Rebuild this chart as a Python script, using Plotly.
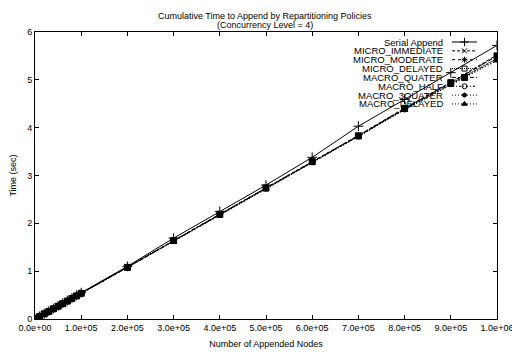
import plotly.graph_objects as go

x_nodes = [0, 10000, 20000, 30000, 40000, 50000, 60000, 70000, 80000, 90000,
           100000, 200000, 300000, 400000, 500000, 600000, 700000, 800000, 900000, 1000000]

serial_append   = [0, 0.055, 0.11, 0.165, 0.22, 0.275, 0.33, 0.385, 0.44, 0.495,
                   0.55, 1.10, 1.69, 2.25, 2.80, 3.38, 4.03, 4.59, 5.15, 5.72]
micro_immediate = [0, 0.053, 0.107, 0.16, 0.214, 0.268, 0.322, 0.376, 0.43, 0.484,
                   0.538, 1.09, 1.64, 2.19, 2.74, 3.29, 3.84, 4.41, 4.95, 5.52]
micro_moderate  = [0, 0.053, 0.107, 0.16, 0.213, 0.267, 0.321, 0.375, 0.429, 0.483,
                   0.537, 1.08, 1.64, 2.19, 2.74, 3.29, 3.83, 4.40, 4.94, 5.50]
micro_delayed   = [0, 0.053, 0.106, 0.159, 0.212, 0.266, 0.32, 0.374, 0.428, 0.482,
                   0.536, 1.08, 1.63, 2.18, 2.73, 3.28, 3.82, 4.39, 4.92, 5.45]
macro_quater    = [0, 0.053, 0.107, 0.16, 0.213, 0.267, 0.321, 0.375, 0.429, 0.483,
                   0.537, 1.08, 1.64, 2.19, 2.74, 3.29, 3.83, 4.40, 4.94, 5.50]
macro_half      = [0, 0.053, 0.106, 0.159, 0.212, 0.265, 0.319, 0.373, 0.427, 0.481,
                   0.535, 1.08, 1.63, 2.18, 2.73, 3.28, 3.82, 4.38, 4.91, 5.44]
macro_3quater   = [0, 0.053, 0.106, 0.159, 0.212, 0.265, 0.319, 0.373, 0.427, 0.481,
                   0.535, 1.08, 1.63, 2.18, 2.72, 3.27, 3.81, 4.38, 4.90, 5.42]
macro_delayed   = [0, 0.053, 0.106, 0.159, 0.211, 0.264, 0.318, 0.372, 0.426, 0.48,
                   0.534, 1.08, 1.62, 2.17, 2.72, 3.27, 3.81, 4.37, 4.89, 5.40]

series_names = ["Serial Append", "MICRO_IMMEDIATE", "MICRO_MODERATE", "MICRO_DELAYED",
                "MACRO_QUATER", "MACRO_HALF", "MACRO_3QUATER", "MACRO_DELAYED"]
series_values = [serial_append, micro_immediate, micro_moderate, micro_delayed,
                 macro_quater, macro_half, macro_3quater, macro_delayed]
symbols = ["cross-thin-open", "x-thin-open", "asterisk-open", "square-open",
           "square", "circle-open", "circle", "triangle-up"]
dashes = ["solid", "3px,2px", "dot", "1px,1px", "4px,2px,1px,2px", "2px,2px,1px,2px", "1px,2px", "1px,2px"]
sizes = [7, 5, 5, 5, 6, 5, 4, 5]

x_tickvals = [0, 100000, 200000, 300000, 400000, 500000, 600000, 700000, 800000, 900000, 1000000]
x_ticktext = ["0.0e+00", "1.0e+05", "2.0e+05", "3.0e+05", "4.0e+05", "5.0e+05",
              "6.0e+05", "7.0e+05", "8.0e+05", "9.0e+05", "1.0e+06"]
y_tickvals = [0, 1, 2, 3, 4, 5, 6]

title_lines = ["Cumulative Time to Append by Repartitioning Policies", "(Concurrency Level = 4)"]

# layout (pixel frame of the plot area)
W, H = 512, 354
L, R, T, B = 35, 15, 32, 35
px_left, px_right = L, W - R
px_top, px_bottom = T, H - B
leg_text_right = 444.5
leg_line_x0, leg_line_x1 = 452, 477
leg_row0, leg_row_step = 42.0, 8.85
title_y0, title_step = 16.0, 8.7

font = "Liberation Sans, Arial, Helvetica, sans-serif"

fig = go.Figure()
for name, vals, sym, dash, sz in zip(series_names, series_values, symbols, dashes, sizes):
    fig.add_trace(go.Scatter(
        x=x_nodes, y=vals, name=name, mode="lines+markers", showlegend=False,
        line=dict(color="black", width=1, dash=dash),
        marker=dict(symbol=sym, size=sz, color="black",
                    line=dict(color="black", width=1)),
    ))

# key (legend) drawn gnuplot-style: text right-aligned, sample on the right
annotations = []
for i, (name, sym, dash, sz) in enumerate(zip(series_names, symbols, dashes, sizes)):
    yrow = leg_row0 + i * leg_row_step
    xm = (leg_line_x0 + leg_line_x1) / 2
    fig.add_trace(go.Scatter(
        x=[leg_line_x0, leg_line_x1], y=[yrow, yrow], xaxis="x2", yaxis="y2",
        mode="lines", showlegend=False, hoverinfo="skip", cliponaxis=False,
        line=dict(color="black", width=1, dash=dash)))
    fig.add_trace(go.Scatter(
        x=[xm], y=[yrow], xaxis="x2", yaxis="y2",
        mode="markers", showlegend=False, hoverinfo="skip", cliponaxis=False,
        marker=dict(symbol=sym, size=min(sz, 6), color="black", line=dict(color="black", width=1))))
    annotations.append(dict(text=name, xref="x2", yref="y2", x=leg_text_right, y=yrow,
                            xanchor="right", yanchor="middle", showarrow=False,
                            font=dict(size=9.5, family=font, color="black")))

for j, line in enumerate(title_lines):
    ypx = title_y0 + j * title_step
    annotations.append(dict(text=line, xref="paper", yref="paper",
                            x=(265 - px_left) / (px_right - px_left),
                            y=(px_bottom - ypx) / (px_bottom - px_top),
                            xanchor="center", yanchor="middle", showarrow=False,
                            font=dict(size=9, family=font, color="black")))

fig.update_layout(
    width=W, height=H,
    margin=dict(l=L, r=R, t=T, b=B, autoexpand=False),
    paper_bgcolor="white", plot_bgcolor="white",
    font=dict(family=font, size=9, color="black"),
    showlegend=False,
    annotations=annotations,
    xaxis=dict(range=[0, 1000000], tickvals=x_tickvals, ticktext=x_ticktext,
               ticks="inside", ticklen=4, tickcolor="black", mirror="allticks",
               showline=True, linecolor="black", linewidth=1, showgrid=False,
               zeroline=False, automargin=False, ticklabeloverflow="allow",
               title=dict(text="Number of Appended Nodes", standoff=8, font=dict(size=9)),
               tickfont=dict(size=9)),
    yaxis=dict(range=[0, 6], tickvals=y_tickvals,
               ticks="inside", ticklen=4, tickcolor="black", mirror="allticks",
               showline=True, linecolor="black", linewidth=1, showgrid=False,
               zeroline=False, automargin=False,
               title=dict(text="Time (sec)", standoff=9, font=dict(size=9)),
               tickfont=dict(size=9)),
    xaxis2=dict(overlaying="x", range=[px_left, px_right], visible=False, fixedrange=True),
    yaxis2=dict(overlaying="y", range=[px_bottom, px_top], visible=False, fixedrange=True),
)

fig.write_html("out.html", config={"displayModeBar": False},
               post_script="document.body.style.margin='0';document.body.style.padding='0';")
